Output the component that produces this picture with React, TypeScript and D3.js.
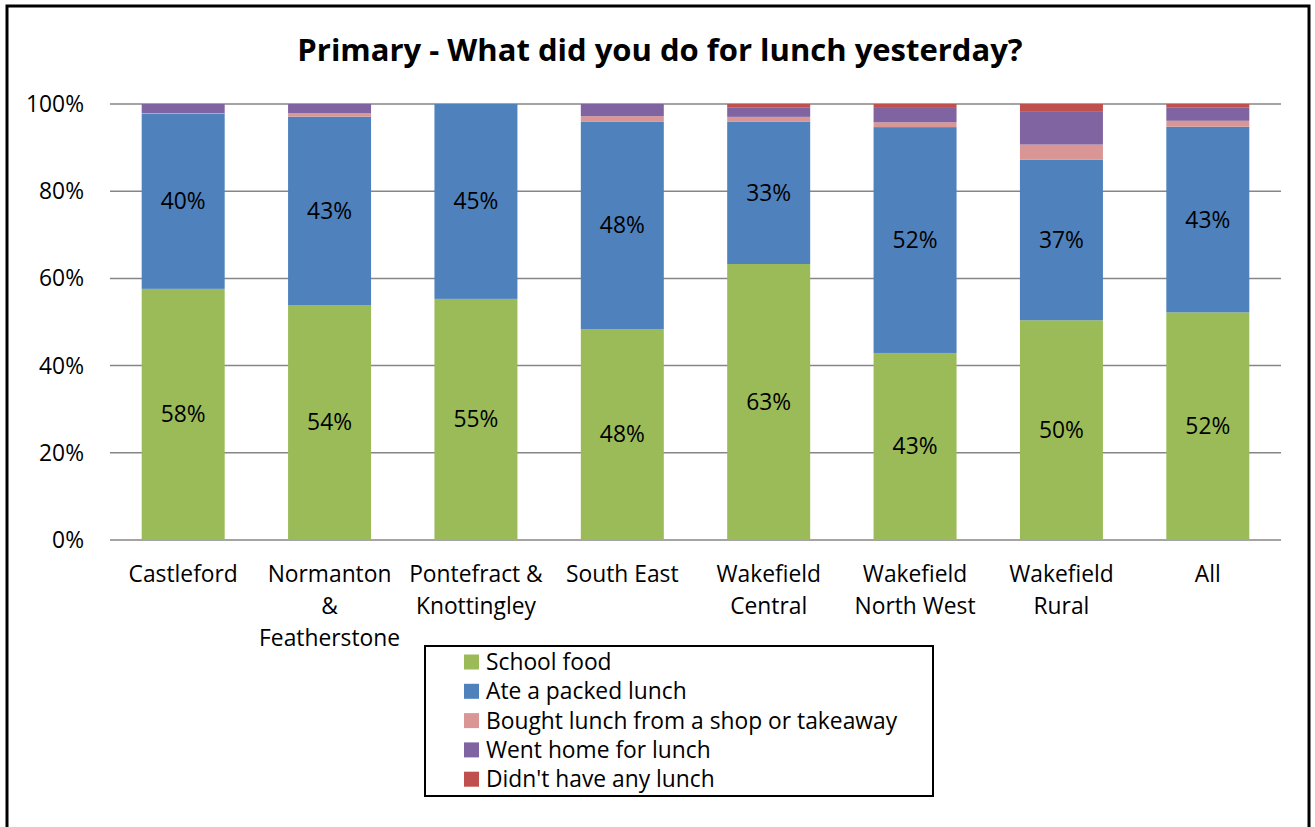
import React from "react";
import * as d3 from "d3";

const categories = [
  ["Castleford"],
  ["Normanton", "&", "Featherstone"],
  ["Pontefract &", "Knottingley"],
  ["South East"],
  ["Wakefield", "Central"],
  ["Wakefield", "North West"],
  ["Wakefield", "Rural"],
  ["All"],
];
const seriesNames = [
  "School food",
  "Ate a packed lunch",
  "Bought lunch from a shop or takeaway",
  "Went home for lunch",
  "Didn't have any lunch",
];
const schoolFood = [57.6, 53.9, 55.3, 48.4, 63.3, 42.9, 50.4, 52.2];
const packedLunch = [40.2, 43.2, 44.7, 47.5, 32.6, 51.8, 36.8, 42.6];
const boughtLunch = [0.1, 0.8, 0, 1.3, 1.15, 1.1, 3.5, 1.35];
const wentHome = [2.1, 2.1, 0, 2.8, 2.2, 3.3, 7.5, 3.1];
const noLunch = [0, 0, 0, 0, 0.75, 0.9, 1.8, 0.75];
const yTicks = [0, 20, 40, 60, 80, 100];
const colors = ["#9BBB59", "#4F81BD", "#D99694", "#8064A2", "#C0504D"];

const FONT = "'Open Sans', Lato, sans-serif";
const FS = 22.8;

export default function App() {
  const W = 1315, H = 827;
  const left = 110, right = 1281, top = 104, bottom = 540;
  const series = [schoolFood, packedLunch, boughtLunch, wentHome, noLunch];
  const idx = categories.map((_, i) => i);
  const x = d3.scaleBand<number>().domain(idx).range([left, right]).paddingInner(0.433).paddingOuter(0.2165);
  const y = d3.scaleLinear().domain([0, 100]).range([bottom, top]);
  const data = idx.map((i) => {
    const o: any = { i };
    series.forEach((s, k) => (o["s" + k] = s[i]));
    return o;
  });
  const stack = d3.stack<any>().keys(series.map((_, k) => "s" + k));
  const stacked = stack(data);

  return (
    <svg width={W} height={H} style={{ position: "absolute", left: 0, top: 0, background: "#fff" }} fontFamily={FONT}>
      <rect x={7} y={6} width={1302} height={H + 10} fill="#fff" stroke="#000" strokeWidth={3} />
      <text x={660} y={61} textAnchor="middle" fontSize={31} fontWeight="bold" fill="#000">
        Primary - What did you do for lunch yesterday?
      </text>
      {yTicks.map((t) => (
        <g key={t}>
          <line x1={left} x2={right} y1={y(t)} y2={y(t)} stroke="#868686" strokeWidth={1.5} />
          <text x={84} y={y(t)} dy="0.35em" textAnchor="end" fontSize={FS} fill="#000">
            {t}%
          </text>
        </g>
      ))}
      {stacked.map((layer, k) => (
        <g key={k} fill={colors[k]}>
          {layer.map((d, i) => {
            const h = y(d[0]) - y(d[1]);
            if (h <= 0) return null;
            return <rect key={i} x={x(i)!} y={y(d[1])} width={x.bandwidth()} height={h} />;
          })}
        </g>
      ))}
      {stacked.slice(0, 2).map((layer, k) => (
        <g key={"l" + k}>
          {layer.map((d, i) => (
            <text key={i} x={x(i)! + x.bandwidth() / 2} y={(y(d[0]) + y(d[1])) / 2} dy="0.35em" textAnchor="middle" fontSize={FS} fill="#000">
              {Math.round(d[1] - d[0])}%
            </text>
          ))}
        </g>
      ))}
      {categories.map((lines, i) => (
        <text key={i} x={x(i)! + x.bandwidth() / 2} y={574} textAnchor="middle" fontSize={FS} fill="#000">
          {lines.map((ln, j) => (
            <tspan key={j} x={x(i)! + x.bandwidth() / 2} dy={j === 0 ? "0.35em" : 32}>
              {ln}
            </tspan>
          ))}
        </text>
      ))}
      <rect x={425} y={646} width={508} height={150} fill="#fff" stroke="#000" strokeWidth={2} />
      {seriesNames.map((n, k) => (
        <g key={n} transform={`translate(0, ${662 + k * 29.3})`}>
          <rect x={464} y={-7.5} width={15} height={15} fill={colors[k]} />
          <text x={486} y={0} dy="0.35em" fontSize={FS} fill="#000">
            {n}
          </text>
        </g>
      ))}
    </svg>
  );
}
